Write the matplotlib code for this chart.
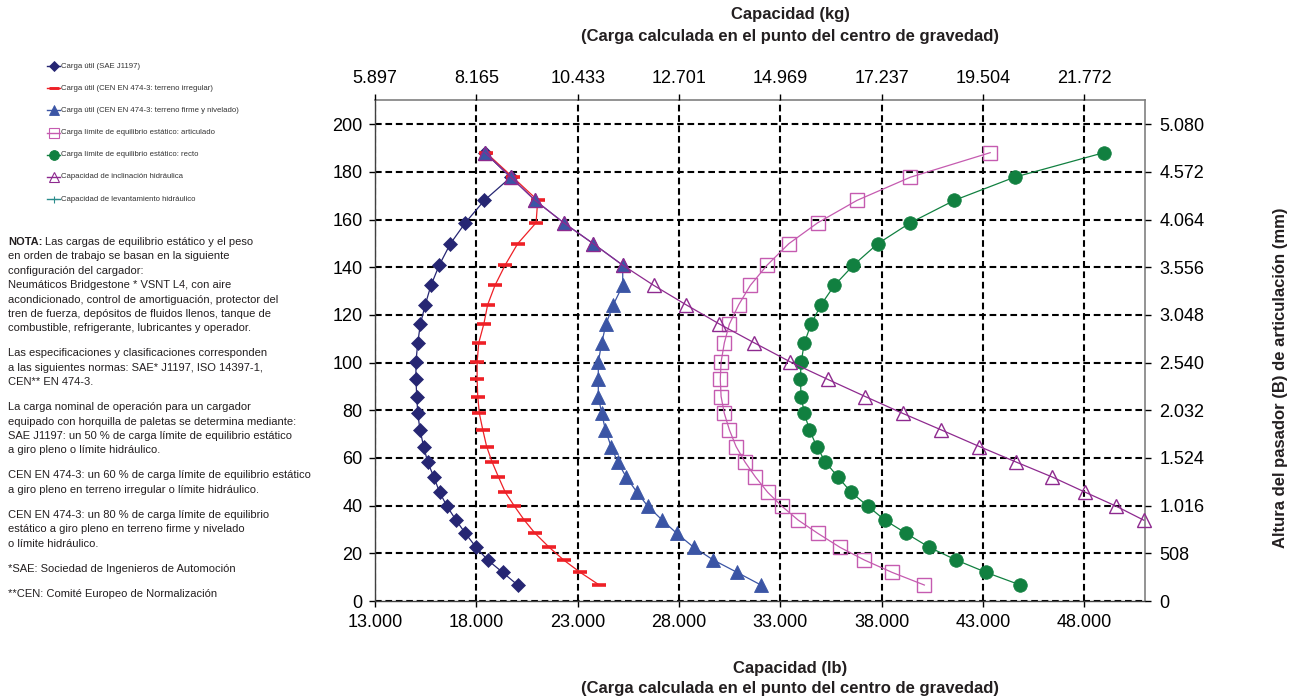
import matplotlib
matplotlib.use('Agg')
import matplotlib.pyplot as plt
from matplotlib.lines import Line2D

plt.rcParams['font.family'] = ['Liberation Sans', 'DejaVu Sans']

# ---------------- data ----------------
# articulation pin height (B), left-axis units
heights = [6.7, 12.0, 17.2, 22.5, 28.4, 33.9, 39.8, 45.6, 52.1, 58.3, 64.8, 71.8, 78.7,
           85.8, 93.0, 100.3, 108.3, 116.2, 124.3, 132.4, 140.9, 149.9, 158.7, 168.1,
           177.8, 188.1]

# capacities in lb
sae_j1197 = [20040, 19300, 18560, 17990, 17460, 17000, 16550, 16190, 15900, 15600, 15400,
             15220, 15110, 15060, 15020, 15020, 15110, 15240, 15480, 15760, 16170, 16720,
             17460, 18400, 19700, 18430]
cen_irregular = [24070, 23130, 22310, 21600, 20900, 20370, 19880, 19430, 19090, 18780, 18510,
                 18320, 18150, 18070, 18040, 18040, 18120, 18370, 18560, 18920, 19420, 20040,
                 20950, 21030, 19800, 18480]
cen_firm = [32050, 30870, 29700, 28730, 27890, 27180, 26460, 25930, 25390, 24980, 24650,
            24370, 24190, 24020, 24020, 24020, 24190, 24400, 24760, 25225, 25225, 23775,
            22310, 20900, 19700, 18430]
tipping_articulated = [40110, 38520, 37150, 35950, 34850, 33890, 33075, 32380, 31770, 31260,
                       30820, 30490, 30240, 30080, 30040, 30080, 30240, 30490, 30950, 31520,
                       32350, 33420, 34850, 36790, 39420, 43360]
tipping_straight = [44850, 43160, 41680, 40360, 39210, 38170, 37320, 36500, 35840, 35230,
                    34800, 34440, 34190, 34030, 33990, 34030, 34190, 34520, 35015, 35670,
                    36610, 37810, 39420, 41590, 44560, 48970]
tilt_heights = heights[5:]
hydraulic_tilt = [50940, 49570, 48060, 46400, 44640, 42830, 40940, 39050, 37190, 35340,
                  33500, 31720, 30000, 28350, 26760, 25225, 23775, 22310, 20900, 19700, 18430]
lift_heights = []
hydraulic_lift = []  # off scale

series_names = ['Carga útil (SAE J1197)',
                'Carga útil (CEN EN 474-3: terreno irregular)',
                'Carga útil (CEN EN 474-3: terreno firme y nivelado)',
                'Carga límite de equilibrio estático: articulado',
                'Carga límite de equilibrio estático: recto',
                'Capacidad de inclinación hidráulica',
                'Capacidad de levantamiento hidráulico']

xticks_lb = [13000, 18000, 23000, 28000, 33000, 38000, 43000, 48000]
xlabels_lb = ['13.000', '18.000', '23.000', '28.000', '33.000', '38.000', '43.000', '48.000']
xlabels_kg = ['5.897', '8.165', '10.433', '12.701', '14.969', '17.237', '19.504', '21.772']
yticks = [0, 20, 40, 60, 80, 100, 120, 140, 160, 180, 200]
ylabels = ['0', '20', '40', '60', '80', '100', '120', '140', '160', '180', '200']
ylabels_mm = ['0', '508', '1.016', '1.524', '2.032', '2.540', '3.048', '3.556', '4.064',
              '4.572', '5.080']

note_paragraphs = [
    ['Las cargas de equilibrio estático y el peso',
     'en orden de trabajo se basan en la siguiente',
     'configuración del cargador:',
     'Neumáticos Bridgestone * VSNT L4, con aire',
     'acondicionado, control de amortiguación, protector del',
     'tren de fuerza, depósitos de fluidos llenos, tanque de',
     'combustible, refrigerante, lubricantes y operador.'],
    ['Las especificaciones y clasificaciones corresponden',
     'a las siguientes normas: SAE* J1197, ISO 14397-1,',
     'CEN** EN 474-3.'],
    ['La carga nominal de operación para un cargador',
     'equipado con horquilla de paletas se determina mediante:',
     'SAE J1197: un 50 % de carga límite de equilibrio estático',
     'a giro pleno o límite hidráulico.'],
    ['CEN EN 474-3: un 60 % de carga límite de equilibrio estático',
     'a giro pleno en terreno irregular o límite hidráulico.'],
    ['CEN EN 474-3: un 80 % de carga límite de equilibrio',
     'estático a giro pleno en terreno firme y nivelado',
     'o límite hidráulico.'],
    ['*SAE: Sociedad de Ingenieros de Automoción'],
    ['**CEN: Comité Europeo de Normalización'],
]

# ---------------- styles ----------------
styles = [
    dict(color='#262673', marker='D', ms=6.8, mfc='#262673', mec='#262673', mew=0.5),
    dict(color='#EE2026', marker='_', ms=9.8, mfc='#EE2026', mec='#EE2026', mew=2.6),
    dict(color='#3B55A5', marker='^', ms=9.4, mfc='#3B55A5', mec='#3B55A5', mew=0.6),
    dict(color='#C55BB0', marker='s', ms=9.4, mfc='none', mec='#C55BB0', mew=1.0),
    dict(color='#118040', marker='o', ms=9.8, mfc='#118040', mec='#118040', mew=0.5),
    dict(color='#8E2A8F', marker='^', ms=9.4, mfc='none', mec='#8E2A8F', mew=1.0),
    dict(color='#2A8C8C', marker='+', ms=7.0, mfc='#2A8C8C', mec='#2A8C8C', mew=1.0),
]

W, H = 1293, 698
fig = plt.figure(figsize=(W / 100, H / 100), dpi=100)
ax = fig.add_axes([375 / W, 1 - 601 / H, (1145 - 375) / W, (601 - 100) / H])

xs_all = [sae_j1197, cen_irregular, cen_firm, tipping_articulated, tipping_straight,
          hydraulic_tilt, hydraulic_lift]
ys_all = [heights, heights, heights, heights, heights, tilt_heights, lift_heights]

for i, (xs, ys) in enumerate(zip(xs_all, ys_all)):
    st = styles[i]
    ax.plot(xs, ys, color=st['color'], lw=0.9, marker=st['marker'], ms=st['ms'],
            mfc=st['mfc'], mec=st['mec'], mew=st['mew'], label=series_names[i],
            clip_on=False, zorder=3 + i)

ax.set_xlim(13000, 51000)
ax.set_ylim(0, 210.2)
ax.set_xticks(xticks_lb)
ax.set_xticklabels(xlabels_lb)
ax.set_yticks(yticks)
ax.set_yticklabels(ylabels)
ax.set_axisbelow(True)
ax.grid(True, color='black', linestyle=(0, (3.2, 1.8)), linewidth=1.5)
ax.tick_params(axis='x', direction='out', length=4.5, width=1, labelsize=13, pad=5,
               colors='black')
ax.tick_params(axis='y', direction='out', length=4.5, width=1, labelsize=13, pad=4.5,
               colors='black')
for s in ['top', 'right']:
    ax.spines[s].set_color('#808080')
    ax.spines[s].set_linewidth(1.2)
for s in ['left', 'bottom']:
    ax.spines[s].set_color('#404040')
    ax.spines[s].set_linewidth(1.0)

axT = ax.twiny()
axT.set_xlim(ax.get_xlim())
axT.set_xticks(xticks_lb)
axT.set_xticklabels(xlabels_kg)
axT.tick_params(axis='x', direction='out', length=4, width=1, labelsize=13, pad=5.5)

axR = ax.twinx()
axR.set_ylim(ax.get_ylim())
axR.set_yticks(yticks)
axR.set_yticklabels(ylabels_mm)
axR.tick_params(axis='y', direction='out', length=4.5, width=1, labelsize=13, pad=6)
for a in (axT, axR):
    for s in a.spines.values():
        s.set_visible(False)


def fx(px):
    return px / W


def fy(py):
    return 1 - py / H


# axis titles
fig.text(fx(790), fy(15), 'Capacidad (kg)', ha='center', va='center', fontsize=12,
         fontweight='bold', color='#231F20')
fig.text(fx(790), fy(36), '(Carga calculada en el punto del centro de gravedad)',
         ha='center', va='center', fontsize=12, fontweight='bold', color='#231F20')
fig.text(fx(790), fy(668), 'Capacidad (lb)', ha='center', va='center', fontsize=12,
         fontweight='bold', color='#231F20')
fig.text(fx(790), fy(689), '(Carga calculada en el punto del centro de gravedad)',
         ha='center', va='center', fontsize=12, fontweight='bold', color='#231F20')
fig.text(fx(1281), fy(378), 'Altura del pasador (B) de articulación (mm)', ha='center',
         va='center', rotation=90, fontsize=12, fontweight='bold', color='#231F20')

# legend (manual, at the left)
leg_y0, leg_dy = 66, 22.2
for i, name in enumerate(series_names):
    st = styles[i]
    y = fy(leg_y0 + i * leg_dy)
    fig.add_artist(Line2D([fx(47), fx(60)], [y, y], color=st['color'], lw=1.0,
                          transform=fig.transFigure))
    fig.add_artist(Line2D([fx(53.5)], [y], color=st['color'], marker=st['marker'],
                          ms=st['ms'] * 0.72, mfc=st['mfc'], mec=st['mec'],
                          mew=max(st['mew'] * 0.8, 0.6), lw=0,
                          transform=fig.transFigure))
    fig.text(fx(61), y, name, ha='left', va='center', fontsize=5.6, color='#333333')

# note text
line_dy, para_dy = 14.4, 25.0
y = 242.0
fs_note = 8.0
fig.canvas.draw()
renderer = fig.canvas.get_renderer()
for p, para in enumerate(note_paragraphs):
    for j, line in enumerate(para):
        if p == 0 and j == 0:
            tb = fig.text(fx(8), fy(y), 'NOTA:', ha='left', va='center', fontsize=fs_note,
                          fontweight='bold', color='#231F20')
            bb = tb.get_window_extent(renderer=renderer)
            fig.text(bb.x1 / W + 2.4 / W, fy(y), line, ha='left', va='center',
                     fontsize=fs_note, color='#231F20')
        else:
            fig.text(fx(8), fy(y), line, ha='left', va='center', fontsize=fs_note,
                     color='#231F20')
        if j < len(para) - 1:
            y += line_dy
    y += para_dy

fig.savefig('out.png', dpi=100)
